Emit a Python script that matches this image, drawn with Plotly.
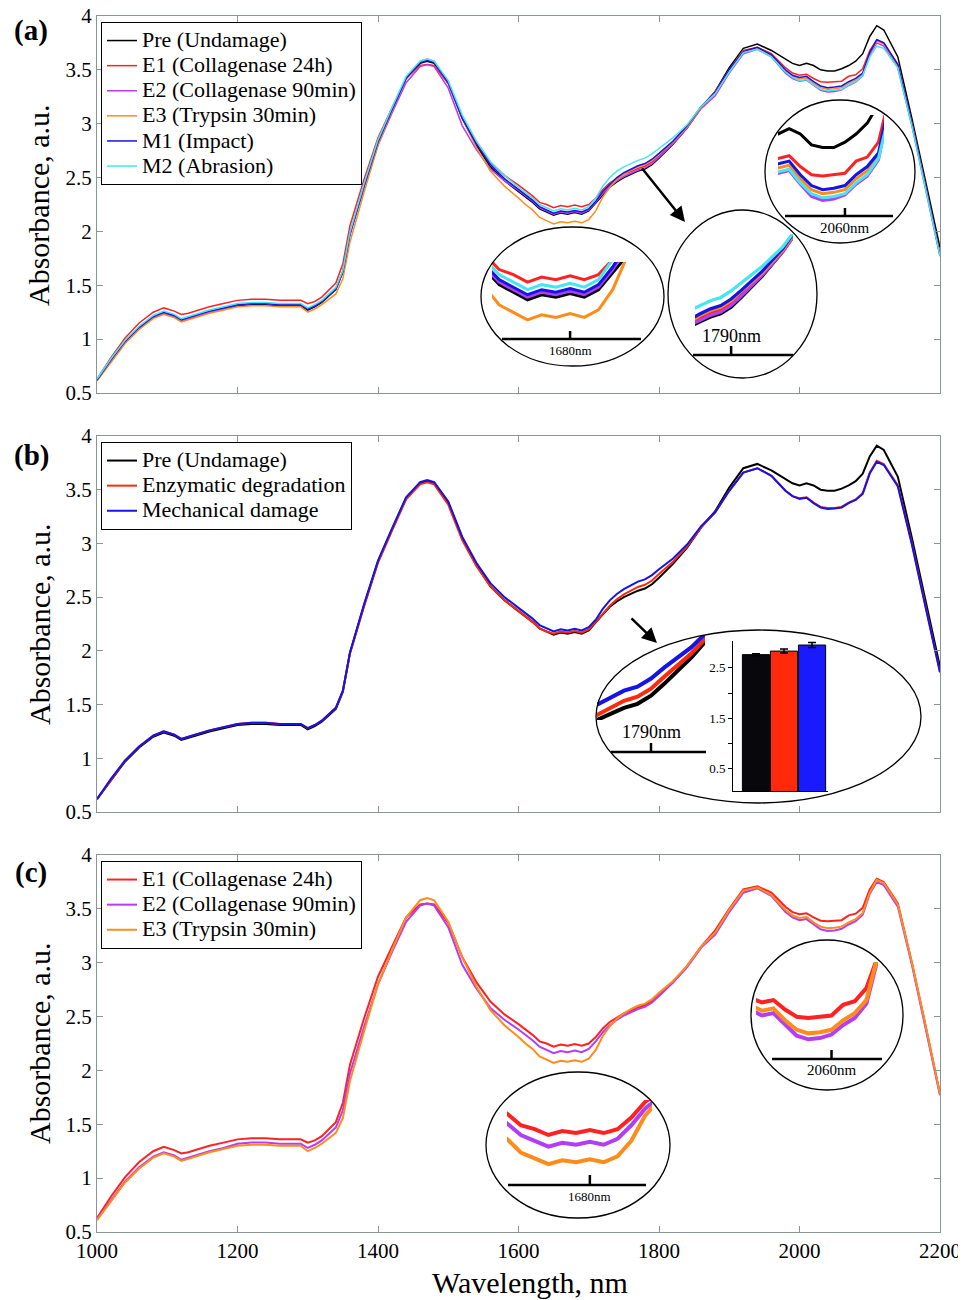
import plotly.graph_objects as go

# the page body has an 8px margin: design pixels are window pixels, shifted by 8px
OFF = 8
W, H = 966, 1300
SERIF = "Liberation Serif"
AXC = "#8a9696"

# ---------------- data ----------------
wavelength = [
    1000, 1020, 1040, 1060, 1080, 1095,
    1110, 1120, 1130, 1145, 1160, 1180,
    1200, 1220, 1240, 1260, 1280, 1290,
    1300, 1310, 1320, 1340, 1350, 1360,
    1380, 1400, 1420, 1440, 1460, 1470,
    1480, 1500, 1520, 1540, 1560, 1580,
    1600, 1610, 1620, 1630, 1640, 1650,
    1660, 1670, 1680, 1690, 1700, 1710,
    1720, 1730, 1740, 1750, 1760, 1770,
    1780, 1790, 1800, 1820, 1840, 1860,
    1880, 1900, 1920, 1940, 1960, 1980,
    1990, 2000, 2010, 2020, 2030, 2040,
    2050, 2060, 2070, 2080, 2090, 2100,
    2110, 2120, 2140, 2160, 2180, 2200,
]

pre = [
    0.62, 0.80, 0.97, 1.10, 1.20, 1.24,
    1.21, 1.17, 1.19, 1.22, 1.25, 1.28,
    1.31, 1.32, 1.32, 1.31, 1.31, 1.31,
    1.27, 1.30, 1.34, 1.46, 1.62, 1.98,
    2.42, 2.83, 3.13, 3.42, 3.56, 3.58,
    3.56, 3.38, 3.05, 2.80, 2.60, 2.47,
    2.37, 2.32, 2.27, 2.21, 2.18, 2.15,
    2.17, 2.16, 2.175, 2.16, 2.19, 2.26,
    2.34, 2.41, 2.46, 2.50, 2.53, 2.56,
    2.58, 2.62, 2.68, 2.81, 2.96, 3.15,
    3.30, 3.52, 3.70, 3.74, 3.68, 3.60,
    3.56, 3.54, 3.56, 3.54, 3.50, 3.49,
    3.49, 3.51, 3.54, 3.58, 3.65, 3.81,
    3.91, 3.87, 3.62, 3.05, 2.45, 1.85,
]

e1_collagenase_24h = [
    0.63, 0.83, 1.01, 1.15, 1.25, 1.29,
    1.26, 1.23, 1.24, 1.27, 1.30, 1.33,
    1.36, 1.37, 1.37, 1.36, 1.36, 1.36,
    1.33, 1.35, 1.39, 1.52, 1.70, 2.05,
    2.48, 2.87, 3.15, 3.42, 3.54, 3.55,
    3.54, 3.37, 3.05, 2.82, 2.64, 2.52,
    2.43, 2.38, 2.33, 2.27, 2.25, 2.22,
    2.24, 2.23, 2.245, 2.23, 2.25, 2.31,
    2.39, 2.45, 2.49, 2.53, 2.555, 2.585,
    2.605, 2.645, 2.70, 2.82, 2.97, 3.15,
    3.30, 3.50, 3.68, 3.71, 3.65, 3.52,
    3.47, 3.45, 3.46, 3.42, 3.39, 3.385,
    3.39, 3.395, 3.44, 3.455, 3.51, 3.68,
    3.78, 3.75, 3.55, 3.00, 2.40, 1.78,
]

e2_collagenase_90min = [
    0.62, 0.80, 0.97, 1.10, 1.20, 1.24,
    1.21, 1.17, 1.19, 1.22, 1.25, 1.28,
    1.32, 1.33, 1.33, 1.32, 1.32, 1.32,
    1.28, 1.31, 1.35, 1.47, 1.63, 1.97,
    2.40, 2.80, 3.10, 3.38, 3.53, 3.55,
    3.53, 3.33, 2.98, 2.76, 2.58, 2.47,
    2.38, 2.33, 2.28, 2.22, 2.19, 2.16,
    2.18, 2.17, 2.185, 2.17, 2.20, 2.27,
    2.355, 2.42, 2.47, 2.51, 2.54, 2.57,
    2.59, 2.63, 2.69, 2.815, 2.96, 3.14,
    3.26, 3.47, 3.65, 3.69, 3.62, 3.47,
    3.42, 3.395, 3.405, 3.355, 3.31, 3.295,
    3.30, 3.315, 3.355, 3.385, 3.445, 3.64,
    3.75, 3.72, 3.52, 2.98, 2.38, 1.77,
]

e3_trypsin_30min = [
    0.61, 0.79, 0.96, 1.09, 1.19, 1.23,
    1.20, 1.16, 1.18, 1.21, 1.24, 1.27,
    1.30, 1.31, 1.31, 1.30, 1.30, 1.30,
    1.25, 1.28, 1.32, 1.42, 1.56, 1.90,
    2.36, 2.80, 3.12, 3.42, 3.58, 3.60,
    3.58, 3.38, 3.05, 2.78, 2.56, 2.42,
    2.31, 2.25, 2.20, 2.13, 2.10, 2.07,
    2.09, 2.08, 2.095, 2.08, 2.11, 2.19,
    2.32, 2.41, 2.48, 2.53, 2.57, 2.60,
    2.62, 2.66, 2.72, 2.83, 2.97, 3.15,
    3.28, 3.49, 3.67, 3.70, 3.63, 3.49,
    3.44, 3.415, 3.425, 3.375, 3.335, 3.32,
    3.325, 3.335, 3.375, 3.405, 3.46, 3.65,
    3.77, 3.74, 3.54, 3.00, 2.40, 1.78,
]

m1_impact = [
    0.62, 0.81, 0.98, 1.11, 1.21, 1.25,
    1.22, 1.18, 1.20, 1.23, 1.26, 1.29,
    1.32, 1.33, 1.33, 1.32, 1.32, 1.32,
    1.28, 1.31, 1.35, 1.47, 1.63, 1.97,
    2.42, 2.83, 3.13, 3.42, 3.57, 3.59,
    3.57, 3.38, 3.05, 2.81, 2.62, 2.49,
    2.39, 2.34, 2.29, 2.23, 2.20, 2.17,
    2.19, 2.18, 2.195, 2.18, 2.21, 2.28,
    2.37, 2.44, 2.50, 2.545, 2.58, 2.61,
    2.63, 2.67, 2.725, 2.84, 2.98, 3.16,
    3.29, 3.50, 3.67, 3.71, 3.64, 3.50,
    3.45, 3.43, 3.44, 3.39, 3.35, 3.335,
    3.34, 3.35, 3.39, 3.42, 3.47, 3.66,
    3.78, 3.75, 3.55, 3.00, 2.40, 1.78,
]

m2_abrasion = [
    0.63, 0.82, 0.99, 1.12, 1.22, 1.26,
    1.23, 1.19, 1.21, 1.24, 1.27, 1.30,
    1.33, 1.34, 1.34, 1.33, 1.33, 1.33,
    1.29, 1.32, 1.36, 1.48, 1.64, 1.99,
    2.44, 2.85, 3.15, 3.44, 3.58, 3.60,
    3.58, 3.40, 3.08, 2.84, 2.65, 2.52,
    2.41, 2.36, 2.31, 2.25, 2.22, 2.19,
    2.21, 2.20, 2.215, 2.20, 2.23, 2.31,
    2.42, 2.50, 2.56, 2.60, 2.63, 2.66,
    2.68, 2.72, 2.77, 2.87, 2.99, 3.16,
    3.28, 3.48, 3.66, 3.69, 3.62, 3.48,
    3.43, 3.40, 3.41, 3.36, 3.32, 3.305,
    3.31, 3.32, 3.36, 3.39, 3.45, 3.62,
    3.72, 3.70, 3.52, 2.98, 2.38, 1.77,
]

enzymatic = [
    0.62, 0.80, 0.98, 1.11, 1.21, 1.25,
    1.22, 1.18, 1.20, 1.23, 1.26, 1.29,
    1.32, 1.33, 1.33, 1.32, 1.32, 1.32,
    1.28, 1.31, 1.35, 1.47, 1.63, 1.97,
    2.41, 2.82, 3.12, 3.41, 3.55, 3.57,
    3.55, 3.36, 3.03, 2.79, 2.60, 2.47,
    2.37, 2.32, 2.27, 2.21, 2.18, 2.16,
    2.18, 2.17, 2.185, 2.17, 2.20, 2.27,
    2.35, 2.42, 2.48, 2.525, 2.56, 2.595,
    2.615, 2.655, 2.715, 2.83, 2.97, 3.15,
    3.29, 3.49, 3.66, 3.70, 3.63, 3.49,
    3.44, 3.42, 3.43, 3.38, 3.34, 3.33,
    3.33, 3.34, 3.38, 3.41, 3.47, 3.66,
    3.77, 3.74, 3.54, 3.00, 2.40, 1.80,
]

mechanical = [
    0.62, 0.81, 0.98, 1.11, 1.21, 1.25,
    1.22, 1.18, 1.20, 1.23, 1.26, 1.29,
    1.32, 1.33, 1.33, 1.32, 1.32, 1.32,
    1.28, 1.31, 1.35, 1.47, 1.63, 1.98,
    2.43, 2.84, 3.14, 3.43, 3.57, 3.59,
    3.57, 3.39, 3.06, 2.82, 2.63, 2.50,
    2.40, 2.35, 2.30, 2.24, 2.21, 2.18,
    2.20, 2.19, 2.205, 2.19, 2.22, 2.29,
    2.39, 2.47, 2.53, 2.575, 2.61, 2.645,
    2.665, 2.705, 2.76, 2.86, 2.99, 3.16,
    3.29, 3.49, 3.66, 3.70, 3.63, 3.49,
    3.44, 3.415, 3.425, 3.375, 3.335, 3.32,
    3.325, 3.335, 3.375, 3.405, 3.46, 3.65,
    3.76, 3.73, 3.53, 2.99, 2.39, 1.80,
]

bar_categories = ["Pre", "Enzymatic", "Mechanical"]
bar_values = [2.76, 2.83, 2.95]
bar_errors = [0.02, 0.04, 0.05]

x_ticks = [1000, 1200, 1400, 1600, 1800, 2000, 2200]
y_ticks = [0.5, 1, 1.5, 2, 2.5, 3, 3.5, 4]

# ---------------- styling ----------------
BLACK, RED, PURPLE, ORANGE, BLUE, CYAN = "#000000", "#ff2222", "#b53cf5", "#ff8c1a", "#1414e6", "#44e6f0"
RED_B = "#ff2a0a"

series_a = [
    ("Pre (Undamage)", pre, BLACK),
    ("E1 (Collagenase 24h)", e1_collagenase_24h, RED),
    ("E2 (Collagenase 90min)", e2_collagenase_90min, PURPLE),
    ("E3 (Trypsin 30min)", e3_trypsin_30min, ORANGE),
    ("M1 (Impact)", m1_impact, BLUE),
    ("M2 (Abrasion)", m2_abrasion, CYAN),
]
series_b = [
    ("Pre (Undamage)", pre, BLACK),
    ("Enzymatic degradation", enzymatic, RED_B),
    ("Mechanical damage", mechanical, BLUE),
]
series_c = [
    ("E1 (Collagenase 24h)", e1_collagenase_24h, RED),
    ("E2 (Collagenase 90min)", e2_collagenase_90min, PURPLE),
    ("E3 (Trypsin 30min)", e3_trypsin_30min, ORANGE),
]


def px(x):
    return (x - OFF) / W


def py(y):
    return 1 - (y - OFF) / H


def legend_label(name):
    return '<span style="font-size:22px">%s</span>' % name


fig = go.Figure()
layout = dict()

# main panels: (axis index, series, legend id, line width, top px, bottom px, show x labels, legend top)
panels = [
    (1, series_a, "legend", 1.5, 16, 393, False, 22),
    (2, series_b, "legend2", 2.0, 436, 812, False, 442),
    (3, series_c, "legend3", 2.0, 855, 1232, True, 861),
]

for idx, series, leg, lw, top, bot, showx, legtop in panels:
    sfx = "" if idx == 1 else str(idx)
    for name, vals, col in series:
        fig.add_trace(go.Scatter(
            x=wavelength, y=vals, mode="lines", name=legend_label(name),
            line=dict(color=col, width=lw),
            xaxis="x" + sfx, yaxis="y" + sfx, legend=leg, showlegend=True))
    common = dict(showline=True, linecolor=AXC, linewidth=1, mirror="ticks",
                  ticks="inside", ticklen=6, tickcolor=AXC, showgrid=False,
                  zeroline=False, automargin=False, ticklabeloverflow="allow",
                  tickfont=dict(family=SERIF, size=21, color="black"))
    layout["xaxis" + sfx] = dict(common, domain=[px(97), px(940)], range=[1000, 2200],
                                 tickvals=x_ticks, showticklabels=showx, anchor="y" + sfx)
    layout["yaxis" + sfx] = dict(common, domain=[py(bot), py(top)], range=[0.5, 4],
                                 tickvals=y_ticks, anchor="x" + sfx)
    layout[leg] = dict(x=px(101), y=py(legtop), xanchor="left", yanchor="top",
                       bgcolor="white", bordercolor="black", borderwidth=1,
                       font=dict(family=SERIF, size=17, color="black"),
                       itemwidth=30, tracegroupgap=0)

# insets: (axis idx, series, xrange, yrange, xdom px, ydom px(top,bottom), lw)
insets = [
    (4, series_a, [1625, 1725], [2.01, 2.30], (492, 634), (262, 335), 3),
    (5, series_a, [1755, 1850], [2.48, 3.07], (695, 793), (234, 330), 3.2),
    (6, series_a, [2000, 2095], [3.26, 3.61], (778, 884), (115, 210), 3),
    (7, series_b, [1750, 1830], [2.50, 2.92], (597, 705), (635, 720), 4),
    (9, series_c, [1995, 2100], [3.25, 3.62], (756, 878), (962, 1050), 4),
    (10, series_c, [1620, 1725], [2.04, 2.40], (507, 652), (1100, 1170), 4),
]
for idx, series, xr, yr, xd, yd, lw in insets:
    for name, vals, col in series:
        fig.add_trace(go.Scatter(
            x=wavelength, y=vals, mode="lines", name=name, showlegend=False,
            line=dict(color=col, width=lw), xaxis="x%d" % idx, yaxis="y%d" % idx,
            hoverinfo="skip"))
    layout["xaxis%d" % idx] = dict(domain=[px(xd[0]), px(xd[1])], range=xr, visible=False,
                                   automargin=False, anchor="y%d" % idx)
    layout["yaxis%d" % idx] = dict(domain=[py(yd[1]), py(yd[0])], range=yr, visible=False,
                                   automargin=False, anchor="x%d" % idx)

# bar chart inset in panel (b)
fig.add_trace(go.Bar(
    x=bar_categories, y=bar_values, width=0.97, showlegend=False,
    marker=dict(color=["#08080c", RED_B, "#1a1aff"], line=dict(color="black", width=1)),
    error_y=dict(type="data", array=bar_errors, color="black", thickness=1.5, width=4),
    xaxis="x8", yaxis="y8"))
layout["xaxis8"] = dict(domain=[px(733), px(828)], range=[-0.82, 2.57], type="category",
                        showline=True, linecolor="black", linewidth=1, showticklabels=False,
                        ticks="", showgrid=False, zeroline=False, automargin=False, anchor="y8")
layout["yaxis8"] = dict(domain=[py(791), py(641)], range=[0.06, 3.03],
                        tickvals=[0.5, 1, 1.5, 2, 2.5], ticktext=["0.5", "", "1.5", "", "2.5"],
                        ticks="outside", ticklen=4, tickcolor="black", showline=True,
                        linecolor="black", linewidth=1, showgrid=False, zeroline=False,
                        automargin=False,
                        tickfont=dict(family=SERIF, size=13, color="black"), anchor="x8")

shapes = []
annotations = []

# inset circles / ellipses
for x0, y0, x1, y1 in [(481, 227, 664, 366), (668, 210, 817, 378), (765, 100, 915, 243),
                       (596, 630, 921, 803), (751, 940, 903, 1090), (486, 1072, 670, 1218)]:
    shapes.append(dict(type="circle", xref="paper", yref="paper", x0=px(x0), x1=px(x1),
                       y0=py(y1), y1=py(y0), line=dict(color="black", width=1.3)))

# scale bars: (axis idx, tick wl, bar x0, bar x1, bar y, tick top, label y, font size)
bars = [
    (4, 1680, 502, 641, 339, 331, 350, 13),
    (5, 1790, 693, 793, 355, 346, 336, 18),
    (6, 2060, 785, 893, 216, 208, 228, 15),
    (7, 1790, 611, 706, 752, 743, 732, 18),
    (9, 2060, 772, 882, 1059, 1050, 1070, 15),
    (10, 1680, 508, 646, 1185, 1175, 1196, 13),
]
for idx, wl, bx0, bx1, by, bt, ly, fs in bars:
    shapes.append(dict(type="line", xref="paper", yref="paper", x0=px(bx0), x1=px(bx1),
                       y0=py(by), y1=py(by), line=dict(color="black", width=2.5)))
    shapes.append(dict(type="line", xref="x%d" % idx, yref="paper", x0=wl, x1=wl,
                       y0=py(by), y1=py(bt), line=dict(color="black", width=2.5)))
    annotations.append(dict(text="%dnm" % wl, xref="x%d" % idx, yref="paper", x=wl, y=py(ly),
                            showarrow=False, xanchor="center", yanchor="middle",
                            font=dict(family=SERIF, size=fs, color="black")))

# arrows
for tx, ty, sx, sy in [(685, 222, 641, 167), (657, 643, 630, 617)]:
    annotations.append(dict(text="", xref="paper", yref="paper", x=px(tx), y=py(ty),
                            ax=sx - tx, ay=sy - ty, showarrow=True, arrowhead=2,
                            arrowsize=1.2, arrowwidth=2.5, arrowcolor="black"))

# panel labels and axis titles
for lab, yc, tc in [("(a)", 31, 205), ("(b)", 456, 624), ("(c)", 872, 1043)]:
    annotations.append(dict(text="<b>%s</b>" % lab, xref="paper", yref="paper", x=px(31),
                            y=py(yc), showarrow=False, xanchor="center", yanchor="middle",
                            font=dict(family=SERIF, size=29, color="black")))
    annotations.append(dict(text="Absorbance, a.u.", xref="paper", yref="paper", x=px(39),
                            y=py(tc), showarrow=False, textangle=-90, xanchor="center",
                            yanchor="middle", font=dict(family=SERIF, size=30, color="black")))
annotations.append(dict(text="Wavelength, nm", xref="paper", yref="paper", x=px(530),
                        y=py(1282), showarrow=False, xanchor="center", yanchor="middle",
                        font=dict(family=SERIF, size=30, color="black")))

fig.update_layout(
    width=W, height=H, autosize=False,
    margin=dict(l=0, r=0, t=0, b=0, pad=0),
    paper_bgcolor="white", plot_bgcolor="white",
    shapes=shapes, annotations=annotations, showlegend=True,
    **layout,
)

fig.write_html("out.html")
